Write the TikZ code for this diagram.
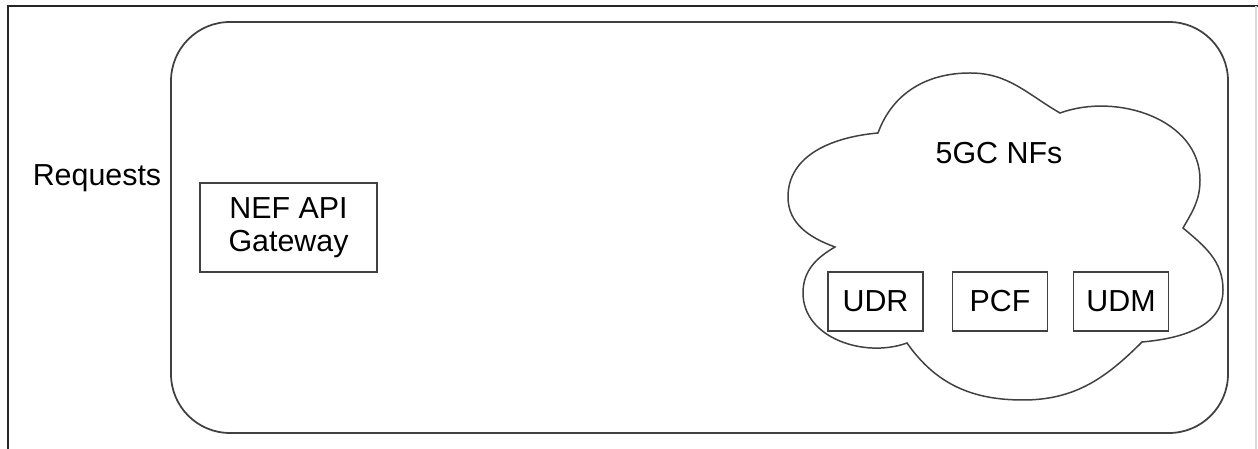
\documentclass[tikz,border=0pt]{standalone}
\usepackage{fontspec}
\setmainfont{Liberation Sans}
\usepackage{tikz}
\usetikzlibrary{positioning}
\definecolor{linegray}{gray}{0.25}

\begin{document}
\begin{tikzpicture}[
    x=0.02cm, y=0.02cm,
    font=\fontsize{17.3}{18.7}\selectfont,
    box/.style={draw=linegray, line width=0.85pt, inner sep=0pt, align=center},
    nfbox/.style={box, minimum width=1.9cm, minimum height=1.18cm},
    frame/.style={draw=black!85, line width=1.6pt},
    outline/.style={draw=linegray, line width=1pt}]
  \useasboundingbox (0,0) rectangle (1258,449);

  % ---- page frame --------------------------------------------------------
  \draw[frame] (8,0) -- (8,443) -- (1258,443);
  \draw[gray!30, line width=0.6pt] (1256,0) -- (1256,443);

  % ---- system boundary ---------------------------------------------------
  \draw[outline, rounded corners=1.18cm] (171,16) rectangle (1228,427);

  % ---- left: requests and gateway ----------------------------------------
  \node[anchor=base] (req) at (97,263) {Requests};
  \node[box, minimum width=3.54cm, minimum height=1.78cm] (nef) at (288.5,221.5) {NEF API\\Gateway};

  % ---- right: core network cloud -----------------------------------------
  \draw[outline, line width=0.85pt]
      (878,316) to[out=70,in=180] (970,376) to[out=0,in=150] (1060,336)
      to[out=20,in=90] (1200,269) to[out=-90,in=60] (1183,221)
      to[out=-40,in=90] (1223,159) to[out=-90,in=5] (1142,107)
      to[out=-135,in=0] (1023,49) to[out=180,in=-55] (907,106)
      to[out=200,in=-90] (803,156) to[out=90,in=210] (835,202)
      to[out=160,in=-90] (788,252) to[out=90,in=185] cycle;
  \node[anchor=base] (nfs) at (999,285) {5GC NFs};
  \node[nfbox] (udr) at (875.5,147.5) {UDR};
  \node[nfbox] (pcf) at (1000,147.5)  {PCF};
  \node[nfbox] (udm) at (1121,147.5)  {UDM};
\end{tikzpicture}
\end{document}
